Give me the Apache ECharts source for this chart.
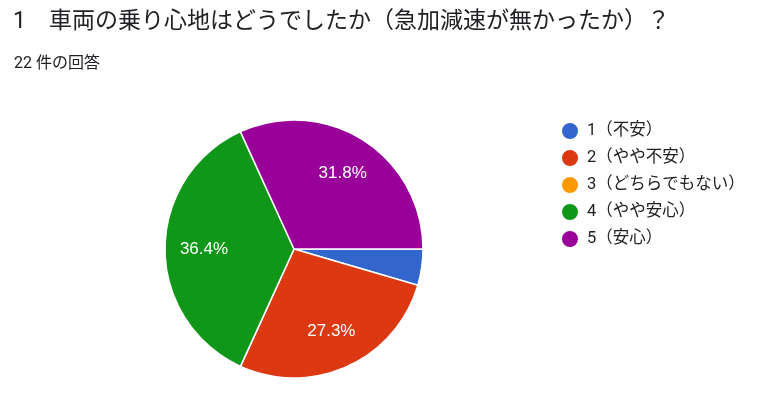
<!DOCTYPE html>
<html>
<head>
<meta charset="utf-8">
<script src="https://cdn.jsdelivr.net/npm/echarts@6/dist/echarts.min.js"></script>
<style>
html,body{margin:0;padding:0;background:#fff;}
#chart{width:765px;height:393px;}
</style>
</head>
<body>
<div id="chart"></div>
<script>
var titleText = '1　車両の乗り心地はどうでしたか（急加減速が無かったか）？';
var subtitleText = '22 件の回答';
var categories = ['1（不安）', '2（やや不安）', '3（どちらでもない）', '4（やや安心）', '5（安心）'];
var counts = [1, 6, 0, 8, 7];
var colors = ['#3366cc', '#dc3912', '#ff9900', '#109618', '#990099'];

var FONT = "Roboto, 'Noto Sans CJK JP', sans-serif";
var center = [294, 249];
var R = 129;

var mainData = categories.map(function (c, i) {
  return { name: c, value: counts[i], itemStyle: { color: colors[i] } };
});
var labelData = categories.map(function (c, i) {
  return { name: c, value: counts[i] };
});

var chart = echarts.init(document.getElementById('chart'), null, { renderer: 'canvas' });
chart.setOption({
  animation: false,
  backgroundColor: '#fff',
  title: [
    { text: titleText, left: 8, top: 6, textStyle: { fontFamily: FONT, fontSize: 23, fontWeight: 'normal', color: '#202124' } },
    { text: subtitleText, left: 9, top: 51, textStyle: { fontFamily: FONT, fontSize: 16, fontWeight: 'normal', color: '#202124' } }
  ],
  legend: {
    orient: 'vertical',
    left: 555,
    top: 116,
    itemWidth: 18,
    itemHeight: 18,
    itemGap: 7,
    icon: 'circle',
    data: categories,
    textStyle: { fontFamily: FONT, fontSize: 16.5, lineHeight: 18, color: '#222', padding: [0, 0, 0, 3] },
    selectedMode: false
  },
  series: [
    {
      type: 'pie',
      center: center,
      radius: [0, R],
      startAngle: 0,
      clockwise: true,
      avoidLabelOverlap: false,
      stillShowZeroSum: false,
      label: { show: false },
      labelLine: { show: false },
      itemStyle: { borderColor: '#fff', borderWidth: 1.5 },
      emphasis: { disabled: true },
      data: mainData
    },
    {
      type: 'pie',
      center: center,
      radius: [45, R],
      startAngle: 0,
      clockwise: true,
      silent: true,
      legendHoverLink: false,
      avoidLabelOverlap: false,
      itemStyle: { color: 'rgba(0,0,0,0)', borderWidth: 0 },
      labelLine: { show: false },
      label: {
        show: true,
        position: 'inside',
        color: '#fff',
        fontFamily: "Arial, 'Liberation Sans', sans-serif",
        fontSize: 17,
        lineHeight: 17,
        padding: [7, 0, 0, 0],
        formatter: function (p) { return p.percent >= 5 ? p.percent.toFixed(1) + '%' : ''; }
      },
      emphasis: { disabled: true },
      data: labelData
    }
  ]
});
</script>
</body>
</html>
